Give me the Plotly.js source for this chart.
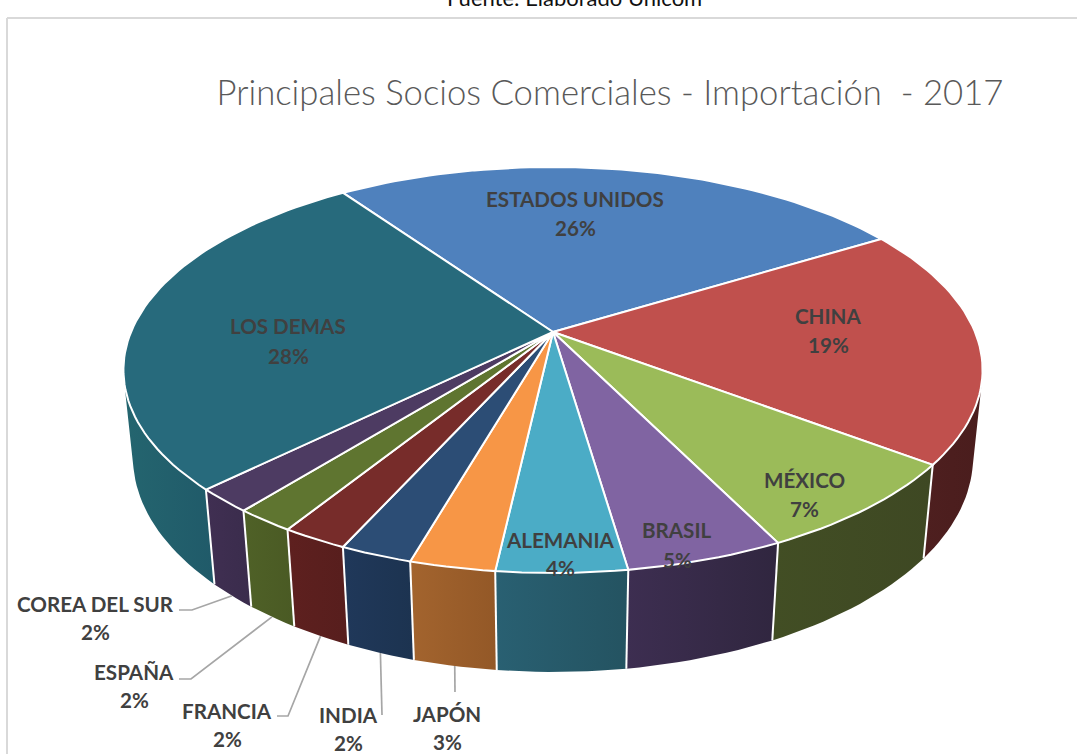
<!DOCTYPE html>
<html>
<head>
<meta charset="utf-8">
<script src="https://cdn.plot.ly/plotly-3.0.1.min.js"></script>
<style>html,body{margin:0;padding:0;background:#fff;overflow:hidden}#c{width:1077px;height:754px}</style>
</head>
<body>
<div id="c"></div>
<script>
// Data (clockwise from the first slice)
const categories = ["ESTADOS UNIDOS","CHINA","MÉXICO","BRASIL","ALEMANIA","JAPÓN","INDIA","FRANCIA","ESPAÑA","COREA DEL SUR","LOS DEMAS"];
const shares = [26.0,19.0,7.4,5.0,4.1,2.7,2.3,2.1,1.9,1.9,27.6];
const topColors = ["#4F81BD","#C0504D","#9BBB59","#8064A2","#4BACC6","#F79646","#2C4D75","#772C2A","#5F7530","#4D3B62","#276A7C"];
const wallLeft  = ["#2A4467","#4E1F1F","#424E24","#3D2E51","#296072","#A3642E","#20385A","#5E201F","#4F6127","#402F52","#24656F"];
const wallRight = ["#223853","#4A1D1D","#3E4823","#30263F","#245361","#935827","#1C3350","#571E1D","#4A5A24","#3A2C4C","#205A69"];
const titleText = "Principales Socios Comerciales - Importación  - 2017";
const sourceText = "Fuente: Elaborado Unicom";

// Pie projection
const startDeg = -35, cx = 553, cy = 332, A = 422, B = 195.9, C = 88, K = 0.187, M = 0.022;
function project(deg, h) {
  const t = deg * Math.PI / 180, u = Math.sin(t), v = -Math.cos(t), w = 1 - K * v + M * h;
  return [cx + A * u / w, cy + (B * v + C * h) / w];
}
function arc(a0, a1, h) {
  const n = Math.max(2, Math.ceil((a1 - a0) / 1.5)), p = [];
  for (let i = 0; i <= n; i++) p.push(project(a0 + (a1 - a0) * i / n, h));
  return p;
}
// angle where the side wall's straight outline touches the rim
function outlineAngle(from, to) {
  const f = d => {
    const a = project(d - 0.1, 0), b = project(d + 0.1, 0), t = project(d, 0), q = project(d, 1);
    return (b[0] - a[0]) * (q[1] - t[1]) - (b[1] - a[1]) * (q[0] - t[0]);
  };
  let prev = f(from);
  for (let d = from + 0.25; d <= to; d += 0.25) {
    const cur = f(d);
    if (prev * cur <= 0) return d;
    prev = cur;
  }
  return to;
}
const outlineR = outlineAngle(40, 140), outlineL = outlineAngle(220, 320);

const total = shares.reduce((s, v) => s + v, 0);
let cum = startDeg;
const slices = shares.map(v => { const a0 = cum; cum += v / total * 360; return [a0, cum]; });
const mid = i => (slices[i][0] + slices[i][1]) / 2;

const traces = [];
const poly = (pts, extra) => Object.assign({
  x: pts.map(p => p[0]), y: pts.map(p => p[1]), type: "scatter", mode: "lines",
  hoverinfo: "skip", showlegend: false
}, extra);

// walls (only the part between the two outline angles can be seen)
slices.forEach((s, i) => {
  const a0 = Math.max(s[0], outlineR), a1 = Math.min(s[1], outlineL);
  if (a1 <= a0) return;
  const pts = arc(a0, a1, 0).concat(arc(a0, a1, 1).reverse());
  pts.push(pts[0]);
  traces.push(poly(pts, {
    fill: "toself", line: {width: 0, color: "rgba(0,0,0,0)"}, fillcolor: wallRight[i],
    fillgradient: {type: "horizontal", colorscale: [[0, wallLeft[i]], [1, wallRight[i]]]}
  }));
});
// wall seams
slices.forEach(s => {
  if (s[0] > outlineR && s[0] < outlineL) {
    traces.push(poly([project(s[0], 0), project(s[0], 1)], {line: {color: "#ffffff", width: 2}}));
  }
});
// top faces
slices.forEach((s, i) => {
  const pts = [[cx, cy]].concat(arc(s[0], s[1], 0)); pts.push([cx, cy]);
  traces.push(poly(pts, {fill: "toself", fillcolor: topColors[i], line: {color: "#ffffff", width: 2}}));
});

// Labels: placement in page pixels (name line, percent line), text from the data
const labelPlace = {
  "ESTADOS UNIDOS":[575,199,228], "CHINA":[828,316,345], "MÉXICO":[804,480,509], "BRASIL":[677,530,560],
  "ALEMANIA":[560,540,568], "LOS DEMAS":[288,326,356], "COREA DEL SUR":[95,604,632], "ESPAÑA":[134,672,700],
  "FRANCIA":[227,711,739], "INDIA":[348,715,743], "JAPÓN":[447,714,742]
};
const leaderStart = {
  "COREA DEL SUR":[[179,610],[192,610]], "ESPAÑA":[[179,679],[191,679]], "FRANCIA":[[277,716],[288,716]],
  "INDIA":[[382,715]], "JAPÓN":[[455,692]]
};
const labelFont = {family: "Lato, Carlito, sans-serif", size: 20.6, color: "#404040", weight: 700};
const annotations = [];
const label = (x, y, text) => annotations.push({x: x, y: y, xref: "x", yref: "y", showarrow: false,
  xanchor: "center", yanchor: "middle", align: "center", text: text, font: labelFont});
categories.forEach((c, i) => {
  const p = labelPlace[c];
  label(p[0], p[1], c);
  label(p[0], p[2], Math.round(shares[i]) + "%");
  if (leaderStart[c]) {
    traces.push(poly(leaderStart[c].concat([project(mid(i), 1)]), {line: {color: "#A6A6A6", width: 1.7}}));
  }
});
annotations.push({x: 574 / 1077, y: 1, xref: "paper", yref: "paper", showarrow: false, xanchor: "center", yanchor: "middle",
  yshift: 3, text: sourceText, font: {family: "Lato, Carlito, sans-serif", size: 22, color: "#111111"}});

const layout = {
  width: 1077, height: 754, margin: {l: 0, r: 0, t: 0, b: 0},
  paper_bgcolor: "#ffffff", plot_bgcolor: "#ffffff", showlegend: false,
  title: {text: titleText, x: 610 / 1077, y: 1 - 93 / 754, xref: "paper", yref: "paper", xanchor: "center", yanchor: "middle",
    font: {family: "Lato, Carlito, sans-serif", size: 34.7, color: "#595959", weight: 300}},
  xaxis: {range: [0, 1077], visible: false, fixedrange: true},
  yaxis: {range: [754, 0], visible: false, fixedrange: true},
  annotations: annotations,
  shapes: [
    {type: "line", xref: "x", yref: "y", x0: 7, x1: 1077, y0: 18, y1: 18, line: {color: "#D9D9D9", width: 2}, layer: "below"},
    {type: "line", xref: "x", yref: "y", x0: 7, x1: 7, y0: 18, y1: 754, line: {color: "#D9D9D9", width: 2}, layer: "below"}
  ]
};
Plotly.newPlot("c", traces, layout, {displayModeBar: false, staticPlot: true});
</script>
</body>
</html>
